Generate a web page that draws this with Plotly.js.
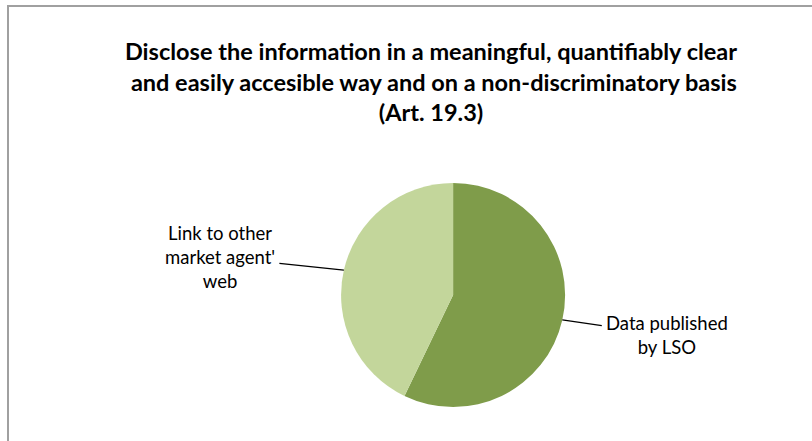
<!DOCTYPE html>
<html>
<head>
<meta charset="utf-8">
<script src="https://cdn.plot.ly/plotly-3.0.1.min.js"></script>
<style>
  html, body { margin: 0; padding: 0; background: #ffffff; overflow: hidden; }
  #frame { position: absolute; left: 7px; top: 5px; width: 900px; height: 500px;
           border: 2px solid #a0a0a0; box-sizing: border-box; pointer-events: none; }
  #chart { position: absolute; left: 0; top: 0; width: 812px; height: 441px; }
</style>
</head>
<body>
<div id="chart"></div>
<div id="frame"></div>
<script>
// ---- data ----
const categories = ["Data published<br>by LSO", "Link to other<br>market agent'<br>web"];
const values = [4, 3];
const colors = ["#7f9c4a", "#c3d69b"];
const titleText = "Disclose the information in a meaningful, quantifiably clear<br> and easily accesible way and on a non-discriminatory basis<br>(Art. 19.3)";

// ---- layout geometry ----
const W = 812, H = 441;
const domX = [0.42, 0.696];
const domY = [0.077, 0.585];
const labelOffsets = [[105, 15], [-124, -13]];

const cx = (domX[0] + domX[1]) / 2 * W;
const cy = (1 - (domY[0] + domY[1]) / 2) * H;
const r = Math.min((domX[1] - domX[0]) * W, (domY[1] - domY[0]) * H) / 2;

const total = values.reduce((a, b) => a + b, 0);
let cum = 0;
const annotations = values.map((v, i) => {
  const mid = (cum + v / 2) / total * 2 * Math.PI;
  cum += v;
  const px = cx + r * Math.sin(mid);
  const py = cy - r * Math.cos(mid);
  return {
    x: px / W, y: 1 - py / H, xref: 'paper', yref: 'paper',
    text: categories[i], showarrow: true, arrowhead: 0, arrowwidth: 1.3,
    arrowcolor: '#000000', ax: labelOffsets[i][0], ay: labelOffsets[i][1],
    font: { family: 'Lato, Carlito, sans-serif', size: 18.5, color: '#000000' },
    align: 'center', standoff: 0, startstandoff: 0, borderpad: 4
  };
});

const trace = {
  type: 'pie', labels: categories, values: values, sort: false,
  direction: 'clockwise', rotation: 0,
  marker: { colors: colors, line: { width: 0 } },
  textinfo: 'none', hoverinfo: 'none', showlegend: false,
  domain: { x: domX, y: domY }
};

const layout = {
  width: W, height: H,
  margin: { l: 0, r: 0, t: 0, b: 0 },
  paper_bgcolor: '#ffffff',
  title: {
    text: '<b>' + titleText + '</b>',
    font: { family: 'Lato, Carlito, sans-serif', size: 23.5, color: '#000000' },
    x: 431 / W, xanchor: 'center', xref: 'paper',
    y: 1 - 60 / H, yanchor: 'middle', yref: 'container'
  },
  annotations: annotations
};

Plotly.newPlot('chart', [trace], layout, { staticPlot: true, displayModeBar: false });
</script>
</body>
</html>
